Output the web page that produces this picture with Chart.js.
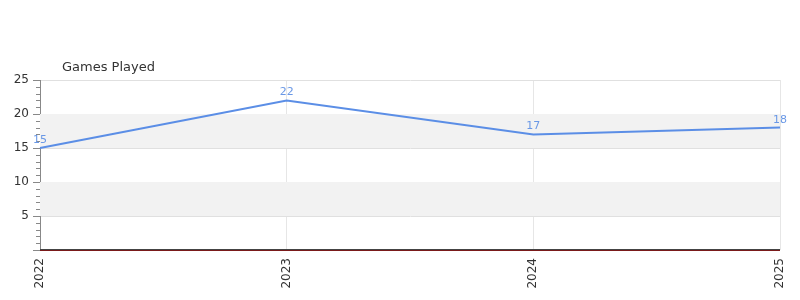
<!DOCTYPE html>
<html>
<head>
<meta charset="utf-8">
<script src="https://cdn.jsdelivr.net/npm/chart.js@4/dist/chart.umd.min.js"></script>
<style>
  html, body { margin: 0; padding: 0; background: #fff; }
  #wrap { width: 800px; height: 300px; }
</style>
</head>
<body>
<div id="wrap"><canvas id="chart"></canvas></div>
<script>
const years = ['2022', '2023', '2024', '2025'];
const gamesPlayed = [15, 22, 17, 18];
const chartTitle = 'Games Played';

// alternating gray bands + zero line + minor ticks + labels
const decor = {
    id: 'decor',
    beforeDatasetsDraw(chart) {
        const { ctx, chartArea: a, scales: { y } } = chart;
        ctx.save();
        ctx.fillStyle = '#f2f2f2';
        [[5, 10], [15, 20]].forEach(([lo, hi]) => {
            const top = y.getPixelForValue(hi);
            const bot = y.getPixelForValue(lo);
            ctx.fillRect(a.left, top, a.right - a.left, bot - top);
        });
        ctx.restore();
    },
    afterDraw(chart) {
        const { ctx, chartArea: a, scales: { y } } = chart;
        ctx.save();
        // y ticks
        ctx.strokeStyle = '#888';
        ctx.lineWidth = 1;
        for (let v = 0; v <= 25; v++) {
            const py = Math.round(y.getPixelForValue(v)) + 0.5;
            const len = v % 5 === 0 ? 7 : 4;
            ctx.beginPath();
            ctx.moveTo(a.left - len, py);
            ctx.lineTo(a.left, py);
            ctx.stroke();
        }
        // zero line
        const zy = Math.round(y.getPixelForValue(0));
        ctx.fillStyle = '#444';
        ctx.fillRect(a.left, zy - 1, a.right - a.left, 1);
        ctx.fillStyle = '#7a1a1a';
        ctx.fillRect(a.left, zy, a.right - a.left, 1);

        // title
        ctx.fillStyle = '#333';
        ctx.font = '13px "DejaVu Sans"';
        ctx.textAlign = 'left';
        ctx.textBaseline = 'alphabetic';
        ctx.fillText(chartTitle, a.left + 22, a.top - 9);

        // value labels
        const meta = chart.getDatasetMeta(0);
        ctx.fillStyle = '#6a98e6';
        ctx.font = '11px "DejaVu Sans"';
        ctx.textAlign = 'center';
        meta.data.forEach((pt, i) => {
            ctx.fillText(String(gamesPlayed[i]), pt.x, pt.y - 5);
        });
        ctx.restore();
    }
};

new Chart(document.getElementById('chart'), {
    type: 'line',
    data: {
        labels: years,
        datasets: [{
            data: gamesPlayed,
            borderColor: '#5b8ee6',
            borderWidth: 2,
            pointRadius: 0,
            tension: 0,
            fill: false
        }]
    },
    options: {
        responsive: true,
        maintainAspectRatio: false,
        animation: false,
        layout: { padding: { top: 80, right: 20, left: 0, bottom: 0 } },
        plugins: {
            legend: { display: false },
            tooltip: { enabled: false }
        },
        scales: {
            x: {
                offset: false,
                grid: { color: '#e6e6e6', drawTicks: false },
                border: { display: false },
                ticks: {
                    minRotation: 90,
                    maxRotation: 90,
                    padding: 8,
                    color: '#333',
                    font: { family: 'DejaVu Sans', size: 12 }
                },
                afterFit(scale) {
                    scale.height = 50;
                    scale.paddingRight = 0;
                    scale.paddingLeft = 0;
                }
            },
            y: {
                min: 0,
                max: 25,
                grid: { color: '#e0e0e0', drawTicks: false },
                border: { color: '#888' },
                ticks: {
                    stepSize: 5,
                    padding: 11,
                    color: '#333',
                    font: { family: 'DejaVu Sans', size: 12 },
                    callback: v => (v === 0 ? '' : v)
                },
                afterFit(scale) { scale.width = 40; }
            }
        }
    },
    plugins: [decor]
});
</script>
</body>
</html>
